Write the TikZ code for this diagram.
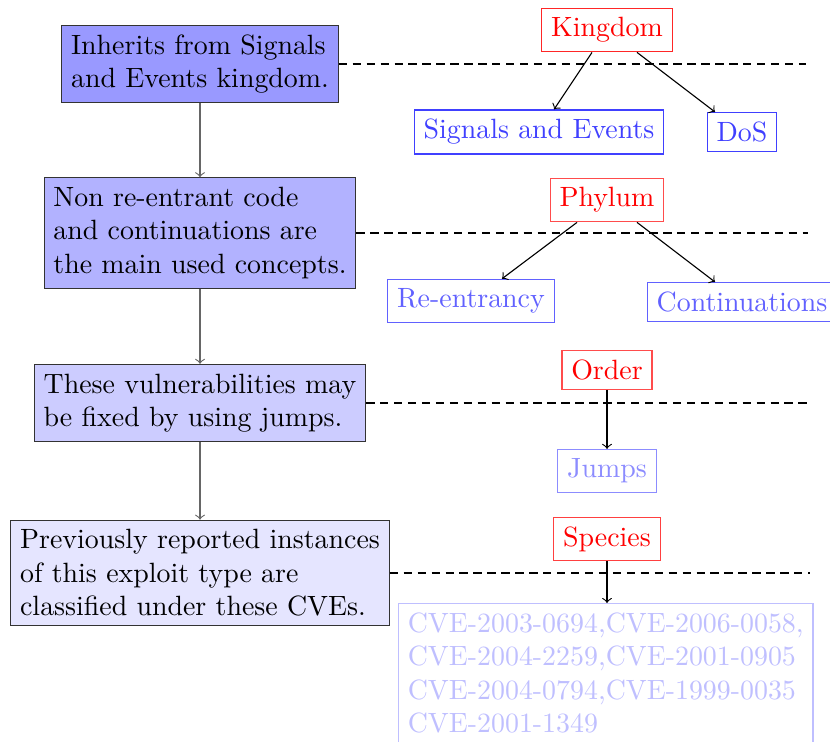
\documentclass[tikz,border=0pt]{standalone}
\usetikzlibrary{calc}
\begin{document}
\begin{tikzpicture}[x=0.0126cm, y=-0.0126cm,
  stage/.style={draw=black!80, align=left},
  rank/.style={draw=red!85, text=red},
  taxon/.style={draw=#1, text=#1},
  flow/.style={->, black!60},
  link/.style={->, black},
  guide/.style={densely dashed, semithick, black}]
\useasboundingbox (0,0) rectangle (830,742);

% descriptions on the left
\node[stage, fill=blue!40] (d1) at (200,64) {Inherits from Signals\\and Events kingdom.};
\node[stage, fill=blue!30] (d2) at (200,233) {Non re-entrant code\\and continuations are\\the main used concepts.};
\node[stage, fill=blue!20] (d3) at (200,403) {These vulnerabilities may\\be fixed by using jumps.};
\node[stage, fill=blue!10] (d4) at (200,573) {Previously reported instances\\of this exploit type are\\classified under these CVEs.};

\draw[flow] (d1) -- (d2);
\draw[flow] (d2) -- (d3);
\draw[flow] (d3) -- (d4);

% taxonomy ranks
\node[rank] (kingdom) at (607,30) {Kingdom};
\node[rank, draw=red!70] (phylum) at (607,200) {Phylum};
\node[rank, draw=red!70] (order) at (607,370) {Order};
\node[rank, draw=red!75] (species) at (607,539) {Species};

% taxa
\node[taxon=blue!75] (sig) at (539,132) {Signals and Events};
\node[taxon=blue!75] (dos) at (742,132) {DoS};
\node[taxon=blue!62] (reent) at (471,301) {Re-entrancy};
\node[taxon=blue!62] (cont) at (742,302) {Continuations};
\node[taxon=blue!45] (jumps) at (607,471) {Jumps};
\node[taxon=blue!25, align=left, anchor=north west] (cve) at (398,603)
  {CVE-2003-0694,CVE-2006-0058,\\CVE-2004-2259,CVE-2001-0905\\CVE-2004-0794,CVE-1999-0035\\CVE-2001-1349};

% rank-to-taxon arrows
\draw[link] ($(kingdom.south)+(-15,0)$) -- ($(sig.north)+(15,0)$);
\draw[link] ($(kingdom.south)+(30,0)$) -- ($(dos.north)+(-27,0)$);
\draw[link] ($(phylum.south)+(-30,0)$) -- ($(reent.north)+(31,0)$);
\draw[link] ($(phylum.south)+(30,0)$) -- ($(cont.north)+(-27,0)$);
\draw[link] (order) -- (jumps);
\draw[link] (species) -- (cve.north -| species);

% level guides
\coordinate (g1) at (806,64);
\coordinate (g2) at (808,233);
\coordinate (g3) at (810,403);
\coordinate (g4) at (810,573);
\draw[guide] (d1.east) -- (g1);
\draw[guide] (d2.east) -- (g2);
\draw[guide] (d3.east) -- (g3);
\draw[guide] (d4.east) -- (g4);
\end{tikzpicture}
\end{document}
